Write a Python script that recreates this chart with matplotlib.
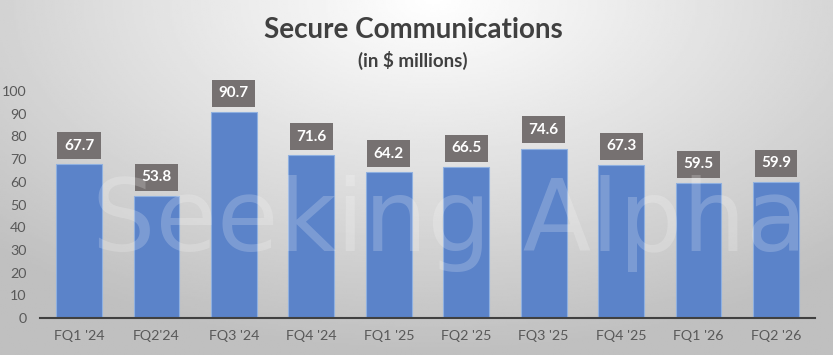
import matplotlib.pyplot as plt
import numpy as np

# data
quarters = ["FQ1 '24", "FQ2'24", "FQ3 '24", "FQ4 '24", "FQ1 '25",
            "FQ2 '25", "FQ3 '25", "FQ4 '25", "FQ1 '26", "FQ2 '26"]
revenue = [67.7, 53.8, 90.7, 71.6, 64.2, 66.5, 74.6, 67.3, 59.5, 59.9]
yticks = [0, 10, 20, 30, 40, 50, 60, 70, 80, 90, 100]

plt.rcParams['font.family'] = ['Lato', 'DejaVu Sans']

fig = plt.figure(figsize=(8.33, 3.55), dpi=100)

# background gradient: white near top middle, grey towards edges
bg = fig.add_axes([0, 0, 1, 1], zorder=-10)
xx, yy = np.meshgrid(np.linspace(0, 1, 400), np.linspace(0, 1, 200))
dist = np.sqrt(((xx - 0.52) / 0.75) ** 2 + ((yy - 0.0) / 1.0) ** 2)
shade = 1.0 - 0.25 * np.clip(dist, 0, 1)
bg.imshow(shade, cmap='gray', vmin=0, vmax=1, aspect='auto', extent=[0, 1, 1, 0])
bg.set_axis_off()

ax = fig.add_axes([40.3 / 833, 1 - 318 / 355, (814.7 - 40.3) / 833, (318 - 91) / 355])
ax.patch.set_alpha(0)

x = np.arange(len(quarters))
bars = ax.bar(x, revenue, width=0.59, color='#5b83c9', edgecolor='#8fb0e0', linewidth=0.8, zorder=2)

for xi, v in zip(x, revenue):
    ax.annotate(f"{v:.1f}", (xi, v), xytext=(0, 13.5), textcoords='offset points',
                ha='center', va='center', color='white', fontsize=11, fontweight='bold',
                bbox=dict(boxstyle='square,pad=0.42', fc='#767171', ec='none'), zorder=4)

ax.set_xlim(-0.5, len(quarters) - 0.5)
ax.set_ylim(0, 100)
ax.set_yticks(yticks)
ax.set_xticks(x)
ax.set_xticklabels(quarters)
ax.tick_params(axis='both', length=0, labelsize=10.3, colors='#595959')
ax.tick_params(axis='x', pad=9)
ax.tick_params(axis='y', pad=10)
for s in ['top', 'right', 'left']:
    ax.spines[s].set_visible(False)
ax.spines['bottom'].set_color('#404040')
ax.spines['bottom'].set_linewidth(1.5)
ax.spines['bottom'].set_zorder(3)

# faint watermark
fig.text(0.54, 0.37, "Seeking Alpha", ha='center', va='center', fontsize=72,
         color='white', alpha=0.2, zorder=3, family='DejaVu Sans')

fig.text(0.496, 0.915, "Secure Communications", ha='center', va='center',
         fontsize=20, fontweight='bold', color='#404040')
fig.text(0.496, 0.83, "(in $ millions)", ha='center', va='center',
         fontsize=13.5, fontweight='bold', color='#404040')

fig.savefig('out.png', dpi=100)
